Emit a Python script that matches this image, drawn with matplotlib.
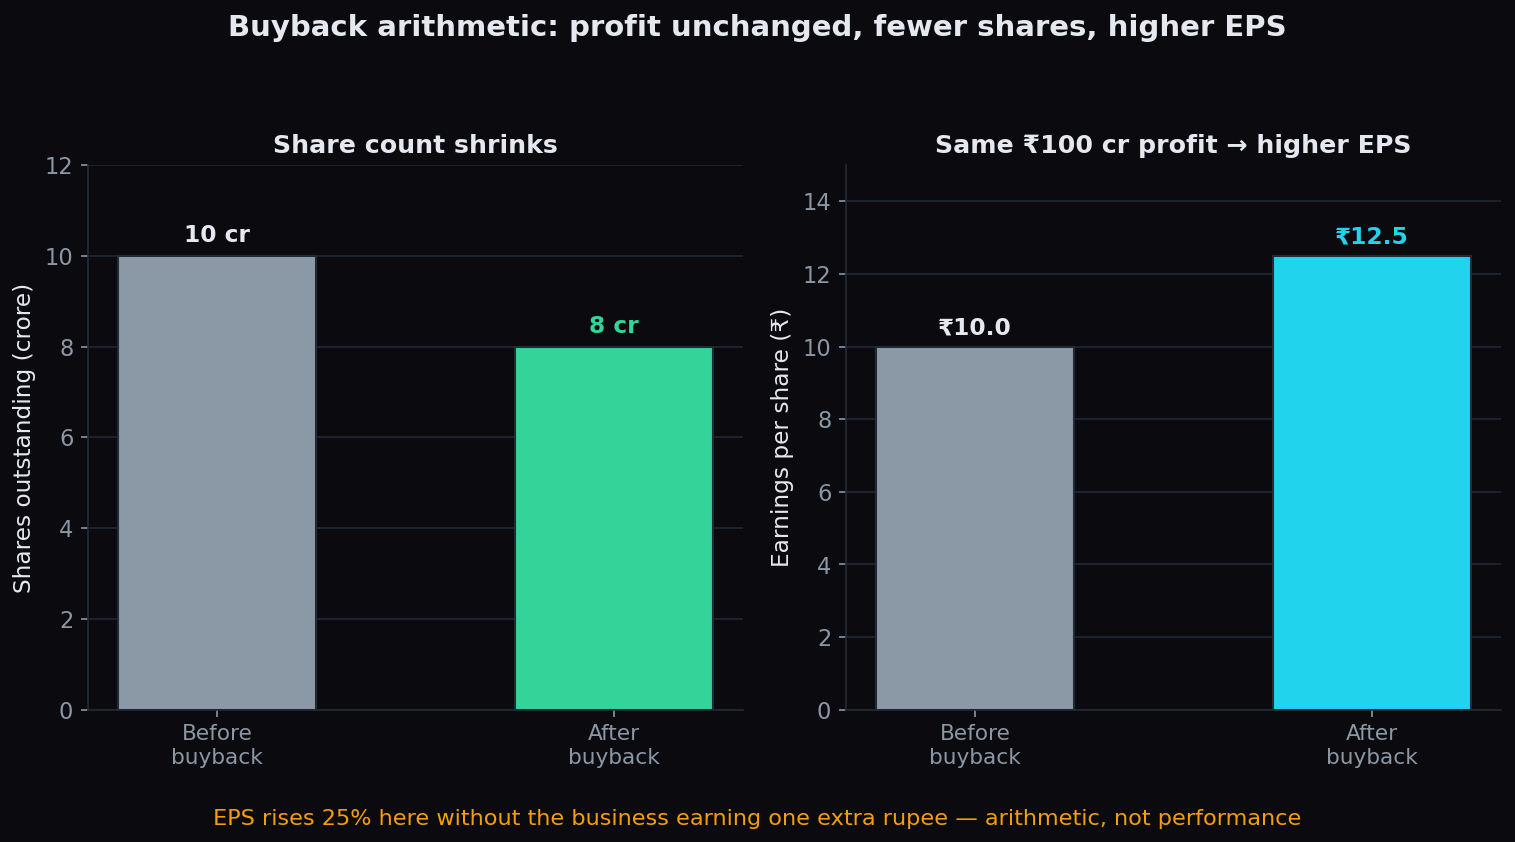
import matplotlib
matplotlib.use("Agg")
import matplotlib.pyplot as plt

stages = ["Before\nbuyback", "After\nbuyback"]
shares_cr = [10, 8]
eps = [10.0, 12.5]
share_labels = ["10 cr", "8 cr"]
eps_labels = ["₹10.0", "₹12.5"]

bg = "#0a0a0f"
grid_c = "#1c232c"
spine_c = "#222b35"
tick_c = "#8b97a5"
text_c = "#e5e9ef"
gray = "#8b99a6"
green = "#34d399"
cyan = "#22d3ee"

plt.rcParams["font.family"] = ["DejaVu Sans"]

fig, (ax1, ax2) = plt.subplots(1, 2, figsize=(10.1, 5.614), dpi=150)
fig.patch.set_facecolor(bg)
fig.subplots_adjust(left=0.058, right=0.9908, top=0.804, bottom=0.157, wspace=0.157)

def style(ax):
    ax.set_facecolor(bg)
    for s in ["top", "right"]:
        ax.spines[s].set_visible(False)
    for s in ["left", "bottom"]:
        ax.spines[s].set_color(spine_c)
    ax.tick_params(colors=tick_c, labelsize=10.8)
    ax.tick_params(axis="x", labelsize=10.4)
    ax.yaxis.grid(True, color=grid_c, linewidth=1)
    ax.set_axisbelow(True)

x = range(len(stages))

style(ax1)
ax1.bar(x, shares_cr, width=0.5, color=[gray, green], edgecolor=spine_c, linewidth=1)
ax1.set_ylim(0, 12)
ax1.set_xticks(list(x))
ax1.set_xticklabels(stages)
ax1.set_ylabel("Shares outstanding (crore)", color=text_c, fontsize=11.2)
ax1.set_title("Share count shrinks", color=text_c, fontsize=12.1, fontweight="bold", pad=6)
for i, (v, lab) in enumerate(zip(shares_cr, share_labels)):
    ax1.text(i, v + 0.2, lab, ha="center", va="bottom", fontsize=11.2, fontweight="bold",
             color=text_c if i == 0 else green)

style(ax2)
ax2.bar(x, eps, width=0.5, color=[gray, cyan], edgecolor=spine_c, linewidth=1)
ax2.set_ylim(0, 15)
ax2.set_xticks(list(x))
ax2.set_xticklabels(stages)
ax2.set_ylabel("Earnings per share (₹)", color=text_c, fontsize=11.2)
ax2.set_title("Same ₹100 cr profit → higher EPS", color=text_c, fontsize=12.1, fontweight="bold", pad=6)
for i, (v, lab) in enumerate(zip(eps, eps_labels)):
    ax2.text(i, v + 0.2, lab, ha="center", va="bottom", fontsize=11.2, fontweight="bold",
             color=text_c if i == 0 else cyan)

fig.suptitle("Buyback arithmetic: profit unchanged, fewer shares, higher EPS",
             color=text_c, fontsize=14, fontweight="bold", y=0.983)
fig.text(0.5, 0.028, "EPS rises 25% here without the business earning one extra rupee — arithmetic, not performance",
         ha="center", va="center", color="#f59e0b", fontsize=10.75)

fig.savefig("out.png", dpi=150, facecolor=bg)
